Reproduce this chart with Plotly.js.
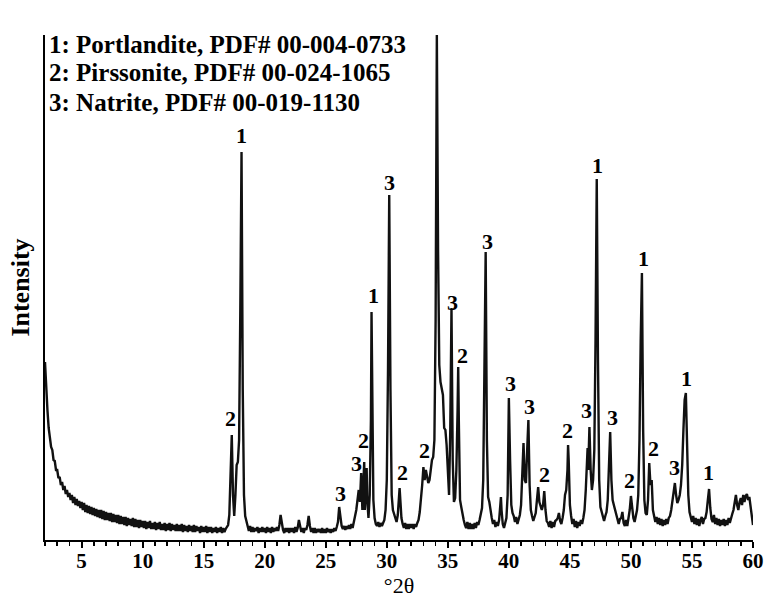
<!DOCTYPE html>
<html>
<head>
<meta charset="utf-8">
<script src="https://cdn.plot.ly/plotly-3.0.1.min.js"></script>
<style>html,body{margin:0;padding:0;background:#fff;}#chart{width:767px;height:598px;}</style>
</head>
<body>
<div id="chart"></div>
<script>
// XRD pattern: 2θ (degrees) and intensity (arbitrary units)
const twoTheta = [
2.0,2.1,2.2,2.3,2.4,2.5,2.6,2.7,2.8,2.9,
3.0,3.1,3.2,3.3,3.4,3.5,3.6,3.7,3.8,3.9,
4.0,4.1,4.2,4.3,4.4,4.5,4.6,4.7,4.8,4.9,
5.0,5.1,5.2,5.3,5.4,5.5,5.6,5.7,5.8,5.9,
6.0,6.1,6.2,6.3,6.4,6.5,6.6,6.7,6.8,6.9,
7.0,7.1,7.2,7.3,7.4,7.5,7.6,7.7,7.8,7.9,
8.0,8.1,8.2,8.3,8.4,8.5,8.6,8.7,8.8,8.9,
9.0,9.1,9.2,9.3,9.4,9.5,9.6,9.7,9.8,9.9,
10.0,10.1,10.2,10.3,10.4,10.5,10.6,10.7,10.8,10.9,
11.0,11.1,11.2,11.3,11.4,11.5,11.6,11.7,11.8,11.9,
12.0,12.1,12.2,12.3,12.4,12.5,12.6,12.7,12.8,12.9,
13.0,13.1,13.2,13.3,13.4,13.5,13.6,13.7,13.8,13.9,
14.0,14.1,14.2,14.3,14.4,14.5,14.6,14.7,14.8,14.9,
15.0,15.1,15.2,15.3,15.4,15.5,15.6,15.7,15.8,15.9,
16.0,16.1,16.2,16.3,16.4,16.5,16.6,16.7,16.8,16.9,
17.0,17.1,17.2,17.3,17.4,17.5,17.6,17.7,17.8,17.9,
18.0,18.1,18.2,18.3,18.4,18.5,18.6,18.7,18.8,18.9,
19.0,19.1,19.2,19.3,19.4,19.5,19.6,19.7,19.8,19.9,
20.0,20.1,20.2,20.3,20.4,20.5,20.6,20.7,20.8,20.9,
21.0,21.1,21.2,21.3,21.4,21.5,21.6,21.7,21.8,21.9,
22.0,22.1,22.2,22.3,22.4,22.5,22.6,22.7,22.8,22.9,
23.0,23.1,23.2,23.3,23.4,23.5,23.6,23.7,23.8,23.9,
24.0,24.1,24.2,24.3,24.4,24.5,24.6,24.7,24.8,24.9,
25.0,25.1,25.2,25.3,25.4,25.5,25.6,25.7,25.8,25.9,
26.0,26.1,26.2,26.3,26.4,26.5,26.6,26.7,26.8,26.9,
27.0,27.1,27.2,27.3,27.4,27.5,27.6,27.7,27.8,27.9,
28.0,28.1,28.15,28.2,28.3,28.35,28.4,28.5,28.6,28.7,28.75,28.8,28.9,
29.0,29.1,29.2,29.3,29.4,29.5,29.6,29.7,29.8,29.9,
30.0,30.1,30.2,30.3,30.4,30.5,30.6,30.7,30.8,30.9,
31.0,31.05,31.1,31.2,31.3,31.4,31.5,31.6,31.7,31.8,31.9,
32.0,32.1,32.2,32.3,32.4,32.5,32.6,32.7,32.8,32.9,
33.0,33.1,33.2,33.3,33.4,33.5,33.6,33.7,33.8,33.9,
34.0,34.1,34.2,34.3,34.4,34.5,34.6,34.7,34.8,34.9,
35.0,35.1,35.2,35.3,35.4,35.5,35.6,35.7,35.8,35.85,35.9,
36.0,36.1,36.2,36.3,36.4,36.5,36.6,36.7,36.8,36.9,
37.0,37.1,37.2,37.3,37.4,37.5,37.6,37.7,37.8,37.9,
38.0,38.1,38.2,38.3,38.4,38.5,38.6,38.7,38.8,38.9,
39.0,39.1,39.2,39.3,39.35,39.4,39.5,39.6,39.7,39.8,39.9,
40.0,40.1,40.2,40.3,40.4,40.5,40.6,40.7,40.8,40.9,
41.0,41.1,41.2,41.3,41.4,41.5,41.6,41.7,41.8,41.9,
42.0,42.1,42.2,42.3,42.4,42.5,42.6,42.7,42.8,42.9,
43.0,43.1,43.2,43.3,43.4,43.5,43.6,43.7,43.8,43.9,
44.0,44.1,44.2,44.3,44.4,44.5,44.6,44.7,44.8,44.85,44.9,
45.0,45.1,45.2,45.3,45.4,45.5,45.6,45.7,45.8,45.9,
46.0,46.1,46.2,46.3,46.4,46.45,46.5,46.6,46.7,46.8,46.9,
47.0,47.1,47.2,47.3,47.4,47.5,47.6,47.7,47.8,47.9,
48.0,48.1,48.2,48.3,48.4,48.5,48.6,48.7,48.8,48.9,
49.0,49.1,49.2,49.3,49.4,49.5,49.6,49.7,49.8,49.9,
50.0,50.1,50.2,50.3,50.4,50.5,50.6,50.7,50.8,50.9,
51.0,51.1,51.2,51.3,51.4,51.5,51.6,51.7,51.8,51.9,
52.0,52.1,52.2,52.3,52.4,52.5,52.6,52.7,52.8,52.9,
53.0,53.1,53.2,53.3,53.4,53.5,53.6,53.7,53.8,53.9,
54.0,54.1,54.2,54.3,54.4,54.5,54.6,54.7,54.8,54.9,
55.0,55.1,55.2,55.3,55.4,55.5,55.6,55.7,55.8,55.9,
56.0,56.1,56.2,56.3,56.4,56.5,56.6,56.7,56.8,56.9,
57.0,57.1,57.2,57.3,57.4,57.5,57.6,57.7,57.8,57.9,
58.0,58.1,58.2,58.3,58.4,58.5,58.6,58.7,58.8,58.9,
59.0,59.1,59.2,59.3,59.4,59.5,59.6,59.7,59.8,59.9,
60.0
];
const intensity = [
178,150,130,112,104,93,90,80,79,70,
70,62,63,55,58,50,54,46,50,43,
47,40,45,37,43,35,41,34,39,32,
38,30,37,28,35,27,34,26,33,25,
32,24,31,23,30,22,30,21,29,20,
28,20,27,19,27,18,26,18,25,17,
25,16,24,16,23,15,23,14,22,15,
21,14,22,13,21,13,20,12,20,13,
19,12,19,11,18,12,19,11,17,11,
18,10,17,11,18,10,16,10,17,9,
16,10,17,9,16,10,15,9,16,9,
15,9,16,8,15,9,14,8,15,9,
14,8,15,8,14,9,13,7,14,8,
13,8,14,7,13,8,13,7,12,8,
13,7,12,8,13,7,12,8,11,13,
15,25,60,105,45,24,45,75,78,100,
230,388,150,45,24,17,14,9,14,8,
13,8,12,9,13,7,12,8,13,8,
12,7,13,8,12,7,13,8,12,9,
13,9,15,25,16,10,7,12,8,12,
7,12,8,12,7,13,8,12,20,12,
8,12,7,12,10,15,24,14,8,12,
7,12,7,11,8,11,7,12,7,11,
7,12,8,11,7,11,8,12,9,13,
18,33,22,14,11,14,10,14,11,15,
11,16,12,17,22,30,40,50,38,67,
30,60,78,30,50,72,40,22,45,120,228,130,40,
22,16,14,18,13,17,14,18,20,30,
60,170,345,150,45,30,25,20,18,25,
40,52,42,22,16,12,17,11,16,11,16,
12,16,11,16,13,17,20,28,40,55,
73,60,70,62,57,60,68,80,83,100,
220,505,290,175,158,153,145,112,110,95,
60,45,110,232,80,38,42,70,130,173,120,
40,33,24,20,15,12,18,11,17,11,
16,11,17,12,18,15,20,25,32,60,
180,288,100,43,38,27,22,16,20,13,
18,14,20,35,43,30,16,12,17,22,45,
142,80,35,27,24,18,23,16,21,25,
35,60,97,60,57,90,120,55,30,24,
19,23,27,40,53,38,33,30,35,49,
30,19,17,13,19,12,18,13,19,20,
22,27,19,16,22,30,45,50,70,95,80,
35,24,16,21,13,19,12,18,14,20,
16,22,30,50,75,92,70,113,70,50,60,
90,200,361,180,60,33,28,22,19,24,
28,40,70,108,60,40,35,30,24,21,
16,21,22,28,17,14,20,14,22,30,
44,30,22,18,25,30,45,100,200,267,
110,40,27,25,40,77,55,60,30,25,
18,23,16,22,15,21,14,20,15,21,
16,22,24,30,40,52,57,45,37,40,
45,55,75,110,140,147,95,45,28,21,
18,24,16,22,15,21,14,20,23,16,
21,22,28,40,51,32,21,18,25,16,
22,15,21,14,20,15,21,14,20,15,
22,17,23,26,30,38,45,35,30,38,
42,35,45,38,44,46,40,43,32,22,
15
];

// Phase identification
const phaseNames = ['Portlandite', 'Pirssonite', 'Natrite'];
const pdfNumbers = ['00-004-0733', '00-024-1065', '00-019-1130'];

// Peak labels: 2θ of label, height of label, phase number
const labelTheta  = [17.21,18.11,26.17,27.53,28.08,28.90,30.26,31.27,33.05,34.36,35.41,36.19,38.21,40.17,41.73,42.88,44.84,46.40,47.22,48.53,49.92,50.99,51.81,53.53,54.52,56.39];
const labelHeight = [122,405,47,77,100,245,358,68,90,517,238,185,299,157,134,66,110,130,375,123,60,282,92,73,162,68];
const labelPhase  = ['2','1','3','3','2','1','3','2','2','1','3','2','3','3','3','2','2','3','1','3','2','1','2','3','1','1'];

const xTicks = [5,10,15,20,25,30,35,40,45,50,55,60];

const serif = 'Liberation Serif, Times New Roman, serif';

const trace = {
  x: twoTheta, y: intensity, type: 'scatter', mode: 'lines',
  line: {color: '#111', width: 2.4}, hoverinfo: 'skip'
};

const annotations = [];
labelTheta.forEach((t, i) => {
  annotations.push({
    x: t, y: labelHeight[i], xref: 'x', yref: 'y', text: labelPhase[i],
    showarrow: false, xanchor: 'center', yanchor: 'middle',
    font: {family: serif, size: 22, color: '#000', weight: 'bold'}
  });
});
const legendY = [0.982, 0.9248, 0.8673];
phaseNames.forEach((name, i) => {
  annotations.push({
    x: 0.004, y: legendY[i], xref: 'paper', yref: 'paper',
    text: (i + 1) + ': ' + name + ', PDF# ' + pdfNumbers[i],
    showarrow: false, xanchor: 'left', yanchor: 'middle', borderpad: 0,
    font: {family: serif, size: 25, color: '#000', weight: 'bold'}
  });
});

const layout = {
  width: 767, height: 598,
  margin: {l: 45, r: 14, t: 35, b: 58},
  paper_bgcolor: '#fff', plot_bgcolor: '#fff',
  showlegend: false,
  font: {family: serif, color: '#000'},
  xaxis: {
    range: [2, 60], showline: true, linecolor: '#000', linewidth: 2,
    ticks: 'outside', ticklen: 6, tickwidth: 2, tickcolor: '#000',
    tickmode: 'array', tickvals: xTicks, ticktext: xTicks.map(String),
    ticklabelstandoff: -5,
    minor: {dtick: 1, tick0: 0, ticks: 'outside', ticklen: 4, tickwidth: 1.5, tickcolor: '#000', showgrid: false},
    showgrid: false, zeroline: false,
    tickfont: {family: serif, size: 21, color: '#000', weight: 'bold'},
    title: {text: '°2θ', font: {family: serif, size: 22, color: '#000'}, standoff: 16}
  },
  yaxis: {
    range: [0, 505], showline: true, linecolor: '#000', linewidth: 2,
    showticklabels: false, ticks: '', showgrid: false, zeroline: false,
    title: {text: 'Intensity', font: {family: serif, size: 26, color: '#000', weight: 'bold'}, standoff: 6}
  },
  annotations: annotations
};

Plotly.newPlot('chart', [trace], layout, {staticPlot: true, displayModeBar: false});
</script>
</body>
</html>
